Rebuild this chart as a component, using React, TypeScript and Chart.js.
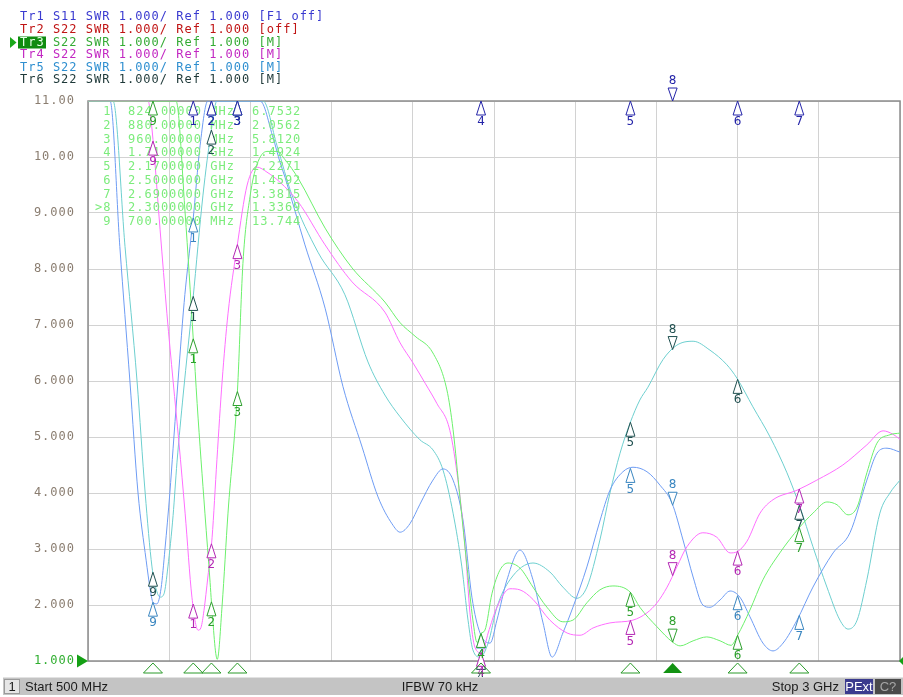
import { useEffect, useRef } from 'react';
import { Chart, registerables } from 'chart.js';

Chart.register(...registerables);

// ---------- stimulus / scale ----------
const START_MHZ = 500;
const STOP_MHZ = 3000;
const FREQ_STEP_MHZ = 250;
const SWR_MIN = 1;
const SWR_MAX = 11;
const SWR_STEP = 1;
const IFBW_TEXT = 'IFBW 70 kHz';

// ---------- header ----------
const traceNames = ['Tr1', 'Tr2', 'Tr3', 'Tr4', 'Tr5', 'Tr6'];
const traceParams = ['S11', 'S22', 'S22', 'S22', 'S22', 'S22'];
const traceFormats = ['SWR 1.000/ Ref 1.000', 'SWR 1.000/ Ref 1.000', 'SWR 1.000/ Ref 1.000', 'SWR 1.000/ Ref 1.000', 'SWR 1.000/ Ref 1.000', 'SWR 1.000/ Ref 1.000'];
const traceStates = ['[F1 off]', '[off]', '[M]', '[M]', '[M]', '[M]'];
const activeTrace = 2;

// ---------- trace data (MHz, SWR) ----------
const tr3Freq = [500, 700, 771, 799, 824, 836, 860, 876, 880, 898, 913, 931, 960, 977, 999, 1020, 1051, 1082, 1107, 1147, 1230, 1313, 1414, 1461, 1507, 1562, 1605, 1624, 1645, 1667, 1685, 1698, 1710, 1722, 1744, 1768, 1793, 1830, 1870, 1913, 1962, 1993, 2036, 2076, 2116, 2170, 2199, 2252, 2300, 2323, 2363, 2405, 2446, 2480, 2500, 2538, 2578, 2630, 2690, 2732, 2775, 2806, 2840, 2868, 2898, 2929, 2969, 3000];
const tr3Swr = [11, 13.744, 11, 9.0, 6.7532, 5.6, 3.64, 2.4, 2.0562, 1.03, 2.0, 3.64, 5.812, 8.1, 9.3, 9.86, 10.1, 10.1, 9.95, 9.62, 8.73, 8.02, 7.41, 7.04, 6.8, 6.5, 5.84, 5.13, 3.93, 2.68, 1.73, 1.33, 1.4924, 1.55, 2.21, 2.62, 2.75, 2.66, 2.32, 1.96, 1.7, 1.73, 2.04, 2.27, 2.34, 2.2271, 1.96, 1.61, 1.3369, 1.27, 1.36, 1.43, 1.36, 1.28, 1.4592, 1.91, 2.45, 2.93, 3.3815, 3.64, 3.84, 3.79, 3.61, 3.75, 4.36, 4.89, 5.04, 5.07];

const tr4Freq = [500, 685, 697, 722, 743, 762, 780, 799, 820, 839, 848, 857, 869, 882, 897, 913, 931, 959, 990, 1020, 1051, 1091, 1147, 1230, 1313, 1414, 1461, 1501, 1538, 1574, 1614, 1639, 1661, 1676, 1691, 1713, 1732, 1759, 1799, 1830, 1870, 1922, 1975, 2015, 2055, 2107, 2178, 2221, 2252, 2283, 2313, 2344, 2393, 2436, 2477, 2498, 2529, 2569, 2609, 2683, 2744, 2824, 2898, 2948, 2978, 3000];
const tr4Swr = [11, 11, 10.5, 8.7, 7.2, 6.0, 4.9, 3.64, 2.14, 1.55, 1.6, 1.9, 2.5, 3.2, 4.6, 6.0, 7.2, 8.4, 9.5, 9.82, 9.73, 9.55, 9.2, 8.43, 7.77, 7.23, 6.68, 6.32, 5.96, 5.6, 5.12, 4.23, 3.04, 1.86, 1.25, 1.14, 1.5, 1.96, 2.29, 2.27, 2.1, 1.73, 1.5, 1.46, 1.59, 1.68, 1.73, 1.86, 2.04, 2.32, 2.68, 3.04, 3.29, 3.21, 2.93, 2.95, 3.14, 3.64, 3.88, 4.05, 4.23, 4.5, 4.86, 5.11, 5.05, 4.96];

const tr5Freq = [500, 568, 598, 629, 654, 679, 691, 700, 712, 725, 737, 752, 762, 774, 796, 814, 823, 845, 869, 1030, 1070, 1091, 1107, 1168, 1230, 1285, 1344, 1393, 1436, 1461, 1491, 1522, 1562, 1593, 1624, 1655, 1682, 1707, 1738, 1759, 1790, 1830, 1870, 1901, 1929, 1962, 1993, 2036, 2076, 2107, 2147, 2178, 2221, 2261, 2298, 2332, 2363, 2393, 2415, 2446, 2477, 2507, 2538, 2578, 2609, 2640, 2683, 2732, 2794, 2846, 2898, 2929, 2960, 3000];
const tr5Swr = [11, 11, 8.4, 6.0, 4.0, 2.8, 2.3, 2.05, 2.02, 2.3, 3.0, 4.0, 4.8, 5.75, 7.4, 8.4, 8.85, 10.2, 11, 11, 10.34, 9.91, 9.63, 8.43, 7.3, 5.9, 4.82, 3.93, 3.45, 3.3, 3.45, 3.8, 4.23, 4.43, 4.23, 3.5, 2.14, 1.5, 1.32, 1.73, 2.45, 2.98, 2.45, 1.68, 1.07, 1.5, 1.96, 2.68, 3.5, 4.05, 4.38, 4.46, 4.38, 4.14, 3.82, 3.16, 2.5, 2.0, 1.96, 2.09, 2.25, 2.14, 1.79, 1.32, 1.18, 1.32, 1.73, 2.32, 2.93, 3.29, 4.23, 4.71, 4.8, 4.73];

const tr6Freq = [500, 577, 614, 651, 676, 697, 709, 722, 734, 746, 762, 774, 793, 823, 854, 879, 897, 1039, 1082, 1128, 1208, 1291, 1362, 1414, 1461, 1522, 1562, 1593, 1624, 1651, 1670, 1685, 1707, 1732, 1759, 1799, 1870, 1922, 1962, 2005, 2036, 2076, 2107, 2138, 2169, 2199, 2224, 2270, 2313, 2363, 2415, 2467, 2498, 2547, 2600, 2652, 2692, 2732, 2775, 2815, 2840, 2868, 2898, 2938, 2969, 3000];
const tr6Swr = [11, 11, 8.4, 6.0, 4.0, 2.68, 2.3, 2.14, 2.2, 2.68, 3.6, 4.55, 5.75, 7.45, 9.32, 10.45, 11, 11, 10.2, 9.32, 8.3, 7.54, 6.34, 5.75, 5.36, 4.95, 4.77, 4.41, 3.64, 2.68, 1.73, 1.2, 1.07, 1.32, 1.96, 2.45, 2.75, 2.59, 2.32, 2.12, 2.32, 3.16, 4.0, 4.71, 5.25, 5.66, 5.89, 6.38, 6.64, 6.71, 6.55, 6.29, 6.05, 5.54, 5.0, 4.36, 3.75, 3.04, 2.32, 1.73, 1.57, 1.73, 2.45, 3.64, 4.0, 4.23];

// ---------- markers ----------
const markerFreq = [824, 880, 960, 1710, 2170, 2500, 2690, 2300, 700];
const markerLabels = ['1', '2', '3', '4', '5', '6', '7', '8', '9'];
const activeMarker = 7;
const tableSwr = [6.7532, 2.0562, 5.812, 1.4924, 2.2271, 1.4592, 3.3815, 1.3369, 13.744];
const tr1MarkerSwr = [11, 11, 11, 11, 11, 11, 11, 11];

// ---------- styles ----------
const HEADER_COLORS = ['#3a3ad0', '#c01414', '#34aa34', '#c228c2', '#2f8fd0', '#1e3838'];
const LINE_COLORS = { tr3: '#6cf06c', tr4: '#ff6eff', tr5: '#6e9cf4', tr6: '#6dcfcf' };
const MARKER_COLORS = { tr1: '#2424a8', tr3: '#2ea02e', tr4: '#b428b4', tr5: '#3a86c0', tr6: '#1f4f4f' };
const TABLE_COLOR = '#7cec7c';
const TICK_COLOR = '#8a7d70';
const REF_GREEN = '#2fae2f';
const GRID_COLOR = '#d2d2d2';
const MONO = '"DejaVu Sans Mono", monospace';
const SANS = '"Liberation Sans", Arial, sans-serif';

function interp(fs: number[], vs: number[], f: number): number {
  for (let i = 0; i < fs.length - 1; i++) {
    if (f >= fs[i] && f <= fs[i + 1]) {
      const t = (f - fs[i]) / (fs[i + 1] - fs[i]);
      return vs[i] + t * (vs[i + 1] - vs[i]);
    }
  }
  return vs[vs.length - 1];
}

function fmtFreq(f: number): string {
  return f < 1000 ? f.toFixed(5) + ' MHz' : (f / 1000).toFixed(7) + ' GHz';
}

function toPoints(fs: number[], vs: number[]) {
  return fs.map((f, i) => ({ x: f, y: Math.min(vs[i], SWR_MAX) }));
}

function triUp(ctx: CanvasRenderingContext2D, x: number, y: number, color: string, label: string) {
  ctx.beginPath();
  ctx.moveTo(x, y);
  ctx.lineTo(x - 4.5, y + 14);
  ctx.lineTo(x + 4.5, y + 14);
  ctx.closePath();
  ctx.fillStyle = '#ffffff';
  ctx.fill();
  ctx.strokeStyle = color;
  ctx.lineWidth = 1;
  ctx.stroke();
  ctx.fillStyle = color;
  ctx.fillText(label, x, y + 21);
}

function triDown(ctx: CanvasRenderingContext2D, x: number, y: number, color: string, label: string) {
  ctx.beginPath();
  ctx.moveTo(x, y);
  ctx.lineTo(x - 4.5, y - 13);
  ctx.lineTo(x + 4.5, y - 13);
  ctx.closePath();
  ctx.fillStyle = '#ffffff';
  ctx.fill();
  ctx.strokeStyle = color;
  ctx.lineWidth = 1;
  ctx.stroke();
  ctx.fillStyle = color;
  ctx.fillText(label, x, y - 20);
}

const vnaPlugin = {
  id: 'vna',
  beforeDraw(chart: any) {
    (chart.ctx as any).letterSpacing = '1px';
  },
  beforeDatasetsDraw(chart: any) {
    const { ctx, chartArea: a } = chart;
    ctx.save();
    ctx.strokeStyle = '#8c8c8c';
    ctx.lineWidth = 1.5;
    ctx.strokeRect(a.left, a.top, a.right - a.left, a.bottom - a.top);
    ctx.restore();
  },
  afterDatasetsDraw(chart: any) {
    const { ctx, chartArea: a } = chart;
    const xs = chart.scales.x;
    const ys = chart.scales.y;
    ctx.save();
    // marker table
    (ctx as any).letterSpacing = '1px';
    ctx.font = '12px ' + MONO;
    ctx.textBaseline = 'middle';
    ctx.textAlign = 'left';
    ctx.fillStyle = TABLE_COLOR;
    for (let i = 0; i < markerFreq.length; i++) {
      const y = 112 + i * 13.75;
      const name = (i === activeMarker ? '>' : ' ') + markerLabels[i];
      ctx.fillText(name, 95, y);
      ctx.fillText(fmtFreq(markerFreq[i]), 128, y);
      ctx.fillText(tableSwr[i].toPrecision(5), 252, y);
    }
    // markers on traces
    (ctx as any).letterSpacing = '0px';
    ctx.font = '12px "DejaVu Sans", sans-serif';
    ctx.textAlign = 'center';
    const traces = [
      { f: tr6Freq, v: tr6Swr, c: MARKER_COLORS.tr6 },
      { f: tr5Freq, v: tr5Swr, c: MARKER_COLORS.tr5 },
      { f: tr4Freq, v: tr4Swr, c: MARKER_COLORS.tr4 },
      { f: null as any, v: tableSwr, c: MARKER_COLORS.tr3 },
    ];
    for (const t of traces) {
      for (let m = 0; m < markerFreq.length; m++) {
        const val = t.f ? interp(t.f, t.v, markerFreq[m]) : t.v[m];
        const x = xs.getPixelForValue(markerFreq[m]);
        const y = val >= SWR_MAX ? a.top : ys.getPixelForValue(val);
        if (m === activeMarker) triDown(ctx, x, y, t.c, markerLabels[m]);
        else triUp(ctx, x, y, t.c, markerLabels[m]);
      }
    }
    for (let m = 0; m < tr1MarkerSwr.length; m++) {
      const x = xs.getPixelForValue(markerFreq[m]);
      const y = ys.getPixelForValue(Math.min(tr1MarkerSwr[m], SWR_MAX));
      if (m === activeMarker) triDown(ctx, x, y, MARKER_COLORS.tr1, markerLabels[m]);
      else triUp(ctx, x, y, MARKER_COLORS.tr1, markerLabels[m]);
    }
    ctx.restore();
  },
  afterDraw(chart: any) {
    const { ctx, chartArea: a } = chart;
    const xs = chart.scales.x;
    const ys = chart.scales.y;
    ctx.save();
    // header
    (ctx as any).letterSpacing = '1px';
    ctx.font = '12px ' + MONO;
    ctx.textBaseline = 'middle';
    ctx.textAlign = 'left';
    const cw = ctx.measureText('0').width;
    for (let i = 0; i < traceNames.length; i++) {
      const y = 17.3 + i * 12.6;
      const rest = ' ' + traceParams[i] + ' ' + traceFormats[i] + ' ' + traceStates[i];
      if (i === activeTrace) {
        ctx.fillStyle = '#0f8c0f';
        ctx.fillRect(18, y - 6, 28, 12);
        ctx.fillStyle = '#1aa81a';
        ctx.beginPath();
        ctx.moveTo(10, y - 5.5);
        ctx.lineTo(16.5, y);
        ctx.lineTo(10, y + 5.5);
        ctx.closePath();
        ctx.fill();
        ctx.fillStyle = '#e6ffe6';
        ctx.fillText(traceNames[i], 20, y);
      } else {
        ctx.fillStyle = HEADER_COLORS[i];
        ctx.fillText(traceNames[i], 20, y);
      }
      ctx.fillStyle = HEADER_COLORS[i];
      ctx.fillText(rest, 20 + cw * 3, y);
    }
    // reference level arrows
    const yRef = ys.getPixelForValue(SWR_MIN);
    ctx.fillStyle = '#14a014';
    ctx.beginPath();
    ctx.moveTo(77, yRef - 6.5);
    ctx.lineTo(88, yRef);
    ctx.lineTo(77, yRef + 6.5);
    ctx.closePath();
    ctx.fill();
    ctx.beginPath();
    ctx.moveTo(903, yRef - 4);
    ctx.lineTo(899, yRef);
    ctx.lineTo(903, yRef + 4);
    ctx.closePath();
    ctx.fill();
    // stimulus markers under the grid
    for (let m = 0; m < markerFreq.length; m++) {
      const x = xs.getPixelForValue(markerFreq[m]);
      ctx.beginPath();
      ctx.moveTo(x, a.bottom + 2);
      ctx.lineTo(x - 9.5, a.bottom + 12);
      ctx.lineTo(x + 9.5, a.bottom + 12);
      ctx.closePath();
      if (m === activeMarker) {
        ctx.fillStyle = '#129212';
        ctx.fill();
      } else {
        ctx.strokeStyle = '#2a9a2a';
        ctx.lineWidth = 1;
        ctx.stroke();
      }
    }
    // status bar
    (ctx as any).letterSpacing = '0px';
    ctx.fillStyle = '#c4c4c4';
    ctx.fillRect(3, 677, 900, 18);
    ctx.fillStyle = '#e2e2e2';
    ctx.fillRect(3, 677, 900, 1);
    ctx.fillStyle = '#e6e6e6';
    ctx.fillRect(4, 679, 16, 15);
    ctx.strokeStyle = '#9a9a9a';
    ctx.strokeRect(4.5, 679.5, 15, 14);
    ctx.font = '13px ' + SANS;
    ctx.fillStyle = '#1c1c1c';
    ctx.textAlign = 'center';
    ctx.fillText('1', 12, 687);
    ctx.textAlign = 'left';
    ctx.fillText('Start ' + START_MHZ + ' MHz', 25, 687);
    ctx.textAlign = 'center';
    ctx.fillText(IFBW_TEXT, 440, 687);
    ctx.textAlign = 'right';
    ctx.fillText('Stop ' + STOP_MHZ / 1000 + ' GHz', 839, 687);
    ctx.fillStyle = '#3b3b8e';
    ctx.fillRect(845, 679, 28, 15);
    ctx.fillStyle = '#4a4a4a';
    ctx.fillRect(875, 679, 26, 15);
    ctx.textAlign = 'center';
    ctx.fillStyle = '#ffffff';
    ctx.fillText('PExt', 859, 687);
    ctx.fillStyle = '#a6a6a6';
    ctx.fillText('C?', 888, 687);
    ctx.restore();
  },
};

export default function App() {
  const ref = useRef<HTMLCanvasElement | null>(null);
  useEffect(() => {
    if (!ref.current) return;
    const chart = new Chart(ref.current, {
      type: 'line',
      data: {
        datasets: [
          { label: 'Tr3', data: toPoints(tr3Freq, tr3Swr), borderColor: LINE_COLORS.tr3 },
          { label: 'Tr4', data: toPoints(tr4Freq, tr4Swr), borderColor: LINE_COLORS.tr4 },
          { label: 'Tr5', data: toPoints(tr5Freq, tr5Swr), borderColor: LINE_COLORS.tr5 },
          { label: 'Tr6', data: toPoints(tr6Freq, tr6Swr), borderColor: LINE_COLORS.tr6 },
        ],
      },
      options: {
        responsive: false,
        animation: false,
        layout: { padding: { top: 101, bottom: 36, left: 0, right: 3 } },
        plugins: { legend: { display: false }, tooltip: { enabled: false } },
        elements: {
          point: { radius: 0 },
          line: { borderWidth: 1, cubicInterpolationMode: 'monotone', fill: false },
        },
        scales: {
          x: {
            type: 'linear',
            min: START_MHZ,
            max: STOP_MHZ,
            ticks: { display: false, stepSize: FREQ_STEP_MHZ },
            grid: { color: GRID_COLOR, drawTicks: false, lineWidth: 1 },
            border: { display: false },
            afterFit: (s: any) => { s.height = 0; },
          },
          y: {
            type: 'linear',
            min: SWR_MIN,
            max: SWR_MAX,
            ticks: {
              stepSize: SWR_STEP,
              padding: 13,
              font: { family: MONO, size: 12 },
              color: (c: any) => (c.tick && c.tick.value === SWR_MIN ? REF_GREEN : TICK_COLOR),
              callback: (v: any) => (Number(v) >= 10 ? Number(v).toFixed(2) : Number(v).toFixed(3)),
            },
            grid: { color: GRID_COLOR, drawTicks: false, lineWidth: 1 },
            border: { display: false },
            afterFit: (s: any) => { s.width = 88; },
          },
        },
      } as any,
      plugins: [vnaPlugin as any],
    });
    return () => chart.destroy();
  }, []);
  return (
    <div style={{ position: 'absolute', left: 0, top: 0, width: 903, height: 697, background: '#ffffff', overflow: 'hidden' }}>
      <canvas ref={ref} width={903} height={697} style={{ display: 'block' }} />
    </div>
  );
}
